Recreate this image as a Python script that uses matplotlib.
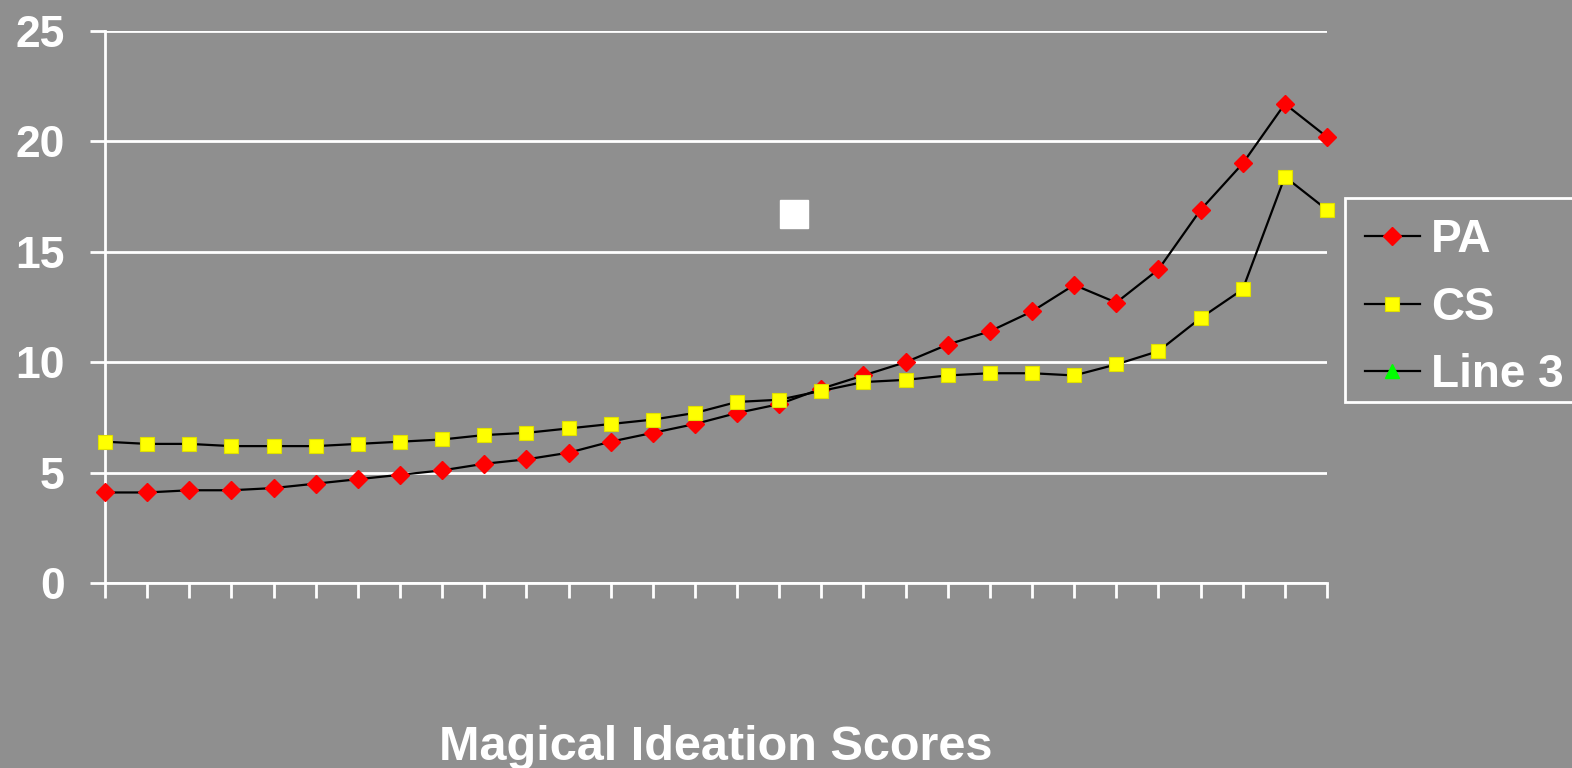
import numpy as np
import matplotlib.pyplot as plt
from matplotlib.patches import Rectangle

plt.rcParams['font.family'] = ['Liberation Sans', 'DejaVu Sans']
plt.rcParams['font.weight'] = 'bold'

bg = '#8f8f8f'
W, H = 1572, 768

# mean scores per magical ideation score bin
pa = [4.1, 4.1, 4.2, 4.2, 4.3, 4.5, 4.7, 4.9, 5.1, 5.4,
      5.6, 5.9, 6.4, 6.8, 7.2, 7.7, 8.1, 8.8, 9.4, 10.0,
      10.8, 11.4, 12.3, 13.5, 12.7, 14.2, 16.9, 19.0, 21.7, 20.2]
cs = [6.4, 6.3, 6.3, 6.2, 6.2, 6.2, 6.3, 6.4, 6.5, 6.7,
      6.8, 7.0, 7.2, 7.4, 7.7, 8.2, 8.3, 8.7, 9.1, 9.2,
      9.4, 9.5, 9.5, 9.4, 9.9, 10.5, 12.0, 13.3, 18.4, 16.9]
line3 = []
stray_x = [16.35]
stray_y = [16.7]

yticks = [0, 5, 10, 15, 20, 25]
x = np.arange(len(pa))

fig = plt.figure(figsize=(W/100, H/100), dpi=100, facecolor=bg)
ax = fig.add_axes([105/W, 1-583/H, (1327-105)/W, (583-31)/H])
ax.set_facecolor(bg)

ax.plot(x, pa, color='black', lw=1.6, marker='D', ms=9.5, mfc='red', mec='red', label='PA', clip_on=False, zorder=3)
ax.plot(x, cs, color='black', lw=1.6, marker='s', ms=10.5, mfc='yellow', mec='#e0e000', mew=0.8, label='CS', clip_on=False, zorder=3)
ax.plot(line3, line3, color='black', lw=1.6, marker='^', ms=10, mfc='#00ff00', mec='#00ff00', label='Line 3')
ax.plot(stray_x, stray_y, ls='none', marker='s', ms=20, mfc='white', mec='white', clip_on=False, zorder=4)

ax.set_xlim(0, len(pa) - 1)
ax.set_ylim(0, 25)
ax.set_yticks(yticks)
ax.set_xticks(x)
ax.set_xticklabels([])
ax.yaxis.grid(True, color='white', lw=2)
ax.set_axisbelow(True)
for s in ['top', 'right']:
    ax.spines[s].set_visible(False)
for s in ['left', 'bottom']:
    ax.spines[s].set_color('white')
    ax.spines[s].set_linewidth(2)
ax.tick_params(axis='y', colors='white', length=11, width=2, labelsize=32, pad=18)
ax.tick_params(axis='x', colors='white', length=11, width=2)
for lab in ax.get_yticklabels():
    lab.set_fontweight('bold')

ax.set_xlabel('Magical Ideation Scores', color='white', fontsize=35, fontweight='bold', va='center')
ax.xaxis.set_label_coords(0.5, -(747 - 583) / 552)

# legend box runs off the right edge of the figure
fig.patches.append(Rectangle((1345/W, 1-402/H), 250/W, 204/H, transform=fig.transFigure,
                             facecolor=bg, edgecolor='white', lw=2, zorder=5))
leg = fig.legend(loc='upper left', bbox_to_anchor=(1351/W, 1-204/H), frameon=False,
                 fontsize=33, labelcolor='white', handlelength=1.2, handletextpad=0.25,
                 labelspacing=0.52, borderpad=0.3, borderaxespad=0)
leg.set_zorder(6)
for t in leg.get_texts():
    t.set_fontweight('bold')

fig.savefig('out.png', dpi=100, facecolor=bg)
